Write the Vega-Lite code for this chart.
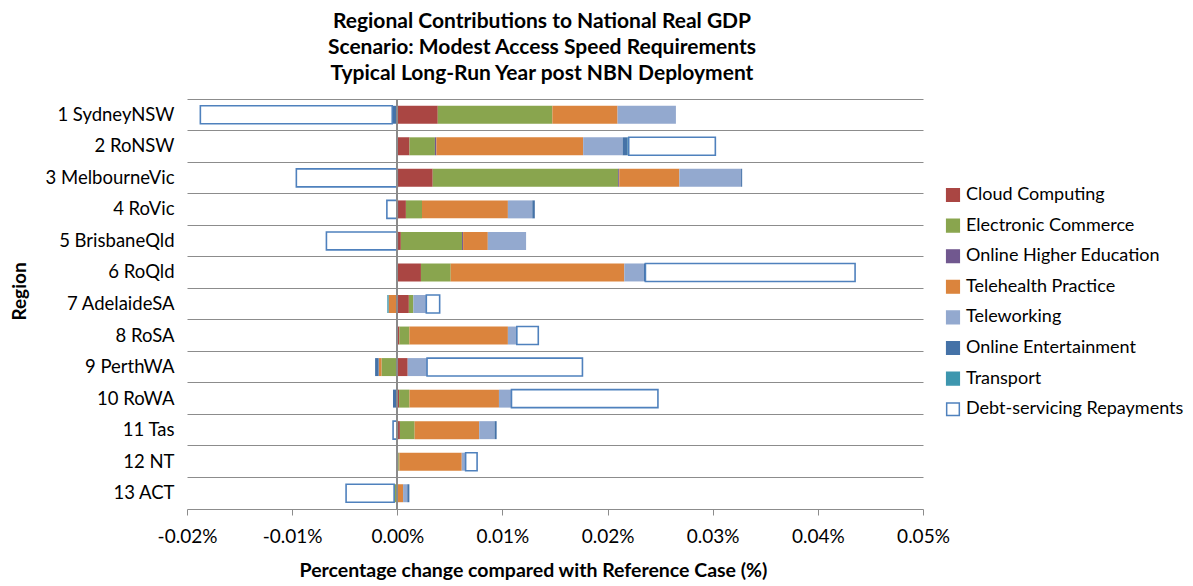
{
  "$schema": "https://vega.github.io/schema/vega-lite/v6.json",
  "width": 736,
  "height": 410,
  "autosize": {"type": "none"},
  "padding": {"left": 187, "top": 99, "right": 270, "bottom": 77},
  "background": "white",
  "config": {
    "font": "Lato",
    "view": {"stroke": null},
    "axis": {"labelColor": "#000", "titleColor": "#000"},
    "legend": {"labelColor": "#000"}
  },
  "title": {
    "text": ["Regional Contributions to National Real GDP", "Scenario: Modest Access Speed Requirements", "Typical Long-Run Year post NBN Deployment"],
    "font": "Lato",
    "fontSize": 21,
    "fontWeight": "bold",
    "color": "#000",
    "anchor": "middle",
    "dx": -13,
    "offset": 15,
    "lineHeight": 26
  },
  "data": {
    "values": [
      {"region": "1 SydneyNSW", "series": "Cloud Computing", "value": 0.00385},
      {"region": "1 SydneyNSW", "series": "Electronic Commerce", "value": 0.0109},
      {"region": "1 SydneyNSW", "series": "Telehealth Practice", "value": 0.0062},
      {"region": "1 SydneyNSW", "series": "Teleworking", "value": 0.00555},
      {"region": "1 SydneyNSW", "series": "Online Entertainment", "value": -0.00048},
      {"region": "1 SydneyNSW", "series": "Debt-servicing Repayments", "value": -0.01825},
      {"region": "2 RoNSW", "series": "Cloud Computing", "value": 0.00116},
      {"region": "2 RoNSW", "series": "Electronic Commerce", "value": 0.00242},
      {"region": "2 RoNSW", "series": "Online Higher Education", "value": 0.00014},
      {"region": "2 RoNSW", "series": "Telehealth Practice", "value": 0.01396},
      {"region": "2 RoNSW", "series": "Teleworking", "value": 0.00375},
      {"region": "2 RoNSW", "series": "Online Entertainment", "value": 0.00048},
      {"region": "2 RoNSW", "series": "Transport", "value": 0.0001},
      {"region": "2 RoNSW", "series": "Debt-servicing Repayments", "value": 0.00824},
      {"region": "3 MelbourneVic", "series": "Cloud Computing", "value": 0.00337},
      {"region": "3 MelbourneVic", "series": "Electronic Commerce", "value": 0.01764},
      {"region": "3 MelbourneVic", "series": "Online Higher Education", "value": 0.0001},
      {"region": "3 MelbourneVic", "series": "Telehealth Practice", "value": 0.00572},
      {"region": "3 MelbourneVic", "series": "Teleworking", "value": 0.00587},
      {"region": "3 MelbourneVic", "series": "Online Entertainment", "value": 0.0001},
      {"region": "3 MelbourneVic", "series": "Debt-servicing Repayments", "value": -0.0096},
      {"region": "4 RoVic", "series": "Cloud Computing", "value": 0.00082},
      {"region": "4 RoVic", "series": "Electronic Commerce", "value": 0.00153},
      {"region": "4 RoVic", "series": "Telehealth Practice", "value": 0.00817},
      {"region": "4 RoVic", "series": "Teleworking", "value": 0.00232},
      {"region": "4 RoVic", "series": "Online Entertainment", "value": 0.00024},
      {"region": "4 RoVic", "series": "Debt-servicing Repayments", "value": -0.00099},
      {"region": "5 BrisbaneQld", "series": "Cloud Computing", "value": 0.00034},
      {"region": "5 BrisbaneQld", "series": "Electronic Commerce", "value": 0.00582},
      {"region": "5 BrisbaneQld", "series": "Online Higher Education", "value": 0.0001},
      {"region": "5 BrisbaneQld", "series": "Telehealth Practice", "value": 0.00235},
      {"region": "5 BrisbaneQld", "series": "Teleworking", "value": 0.00364},
      {"region": "5 BrisbaneQld", "series": "Debt-servicing Repayments", "value": -0.00674},
      {"region": "6 RoQld", "series": "Cloud Computing", "value": 0.00225},
      {"region": "6 RoQld", "series": "Electronic Commerce", "value": 0.00283},
      {"region": "6 RoQld", "series": "Telehealth Practice", "value": 0.01651},
      {"region": "6 RoQld", "series": "Teleworking", "value": 0.00187},
      {"region": "6 RoQld", "series": "Online Entertainment", "value": 0.00014},
      {"region": "6 RoQld", "series": "Debt-servicing Repayments", "value": 0.01994},
      {"region": "7 AdelaideSA", "series": "Cloud Computing", "value": 0.0011},
      {"region": "7 AdelaideSA", "series": "Electronic Commerce", "value": 0.00043},
      {"region": "7 AdelaideSA", "series": "Telehealth Practice", "value": -0.00082},
      {"region": "7 AdelaideSA", "series": "Teleworking", "value": 0.00123},
      {"region": "7 AdelaideSA", "series": "Transport", "value": -0.00013},
      {"region": "7 AdelaideSA", "series": "Debt-servicing Repayments", "value": 0.00127},
      {"region": "8 RoSA", "series": "Cloud Computing", "value": 0.0002},
      {"region": "8 RoSA", "series": "Electronic Commerce", "value": 0.00095},
      {"region": "8 RoSA", "series": "Telehealth Practice", "value": 0.00937},
      {"region": "8 RoSA", "series": "Teleworking", "value": 0.00085},
      {"region": "8 RoSA", "series": "Online Entertainment", "value": -0.00012},
      {"region": "8 RoSA", "series": "Debt-servicing Repayments", "value": 0.00204},
      {"region": "9 PerthWA", "series": "Cloud Computing", "value": 0.00099},
      {"region": "9 PerthWA", "series": "Electronic Commerce", "value": -0.0015},
      {"region": "9 PerthWA", "series": "Telehealth Practice", "value": -0.00027},
      {"region": "9 PerthWA", "series": "Teleworking", "value": 0.00184},
      {"region": "9 PerthWA", "series": "Online Entertainment", "value": -0.00034},
      {"region": "9 PerthWA", "series": "Debt-servicing Repayments", "value": 0.01478},
      {"region": "10 RoWA", "series": "Cloud Computing", "value": 0.00017},
      {"region": "10 RoWA", "series": "Electronic Commerce", "value": 0.00099},
      {"region": "10 RoWA", "series": "Telehealth Practice", "value": 0.00851},
      {"region": "10 RoWA", "series": "Teleworking", "value": 0.00119},
      {"region": "10 RoWA", "series": "Online Entertainment", "value": -0.00041},
      {"region": "10 RoWA", "series": "Debt-servicing Repayments", "value": 0.01393},
      {"region": "11 Tas", "series": "Cloud Computing", "value": 0.00025},
      {"region": "11 Tas", "series": "Electronic Commerce", "value": 0.0014},
      {"region": "11 Tas", "series": "Telehealth Practice", "value": 0.00614},
      {"region": "11 Tas", "series": "Teleworking", "value": 0.00146},
      {"region": "11 Tas", "series": "Online Entertainment", "value": 0.0002},
      {"region": "11 Tas", "series": "Debt-servicing Repayments", "value": -0.0004},
      {"region": "12 NT", "series": "Cloud Computing", "value": 0.0001},
      {"region": "12 NT", "series": "Electronic Commerce", "value": 0.0001},
      {"region": "12 NT", "series": "Telehealth Practice", "value": 0.00593},
      {"region": "12 NT", "series": "Teleworking", "value": 0.00037},
      {"region": "12 NT", "series": "Debt-servicing Repayments", "value": 0.00109},
      {"region": "13 ACT", "series": "Electronic Commerce", "value": -0.0003},
      {"region": "13 ACT", "series": "Telehealth Practice", "value": 0.00055},
      {"region": "13 ACT", "series": "Teleworking", "value": 0.0004},
      {"region": "13 ACT", "series": "Online Entertainment", "value": 0.0002},
      {"region": "13 ACT", "series": "Debt-servicing Repayments", "value": -0.00457}
    ]
  },
  "transform": [
    {"calculate": "indexof(['Cloud Computing','Electronic Commerce','Online Higher Education','Telehealth Practice','Teleworking','Online Entertainment','Transport','Debt-servicing Repayments'], datum.series)", "as": "k"}
  ],
  "layer": [
    {
      "mark": {"type": "bar", "height": {"band": 0.57}},
      "encoding": {
        "y": {
          "field": "region",
          "type": "nominal",
          "sort": null,
          "scale": {"paddingInner": 0, "paddingOuter": 0},
          "axis": {
            "title": "Region",
            "titleFont": "Lato",
            "titleFontSize": 19,
            "titleFontWeight": "bold",
            "titleX": -168,
            "titleY": 192,
            "titleAngle": -90,
            "titleAlign": "center",
            "titleBaseline": "middle",
            "domain": false,
            "ticks": false,
            "grid": true,
            "gridColor": "#8c8c8c",
            "gridWidth": 1,
            "bandPosition": 0,
            "labelFontSize": 18.5,
            "labelPadding": 13,
            "labelLimit": 0
          }
        },
        "x": {
          "field": "value",
          "type": "quantitative",
          "stack": "zero",
          "scale": {"domain": [-0.02, 0.05], "nice": false},
          "axis": {
            "title": "Percentage change compared with Reference Case (%)",
            "titleFont": "Lato",
            "titleFontSize": 19.5,
            "titleFontWeight": "bold",
            "titleX": 346,
            "titleAlign": "center",
            "titlePadding": 15,
            "values": [-0.02, -0.01, 0, 0.01, 0.02, 0.03, 0.04, 0.05],
            "labelExpr": "replace(format(datum.value, '.2f'), '\u2212', '-') + '%'",
            "labelFontSize": 19,
            "labelPadding": 12,
            "labelFlush": false,
            "grid": false,
            "domainColor": "#8c8c8c",
            "tickColor": "#8c8c8c",
            "tickSize": 6
          }
        },
        "fill": {
          "field": "series",
          "type": "nominal",
          "scale": {
            "domain": ["Cloud Computing", "Electronic Commerce", "Online Higher Education", "Telehealth Practice", "Teleworking", "Online Entertainment", "Transport", "Debt-servicing Repayments"],
            "range": ["#AA4643", "#89A54E", "#71588F", "#DB843D", "#93A9CF", "#4572A7", "#3D96AE", "#FFFFFF"]
          },
          "legend": {
            "title": null,
            "orient": "none",
            "legendX": 757,
            "legendY": 87,
            "padding": 0,
            "labelFontSize": 18,
            "labelLimit": 0,
            "labelOffset": 4,
            "symbolType": "square",
            "symbolSize": 160,
            "symbolStrokeWidth": 1.5,
            "rowPadding": 10.6
          }
        },
        "stroke": {
          "field": "series",
          "type": "nominal",
          "scale": {
            "domain": ["Cloud Computing", "Electronic Commerce", "Online Higher Education", "Telehealth Practice", "Teleworking", "Online Entertainment", "Transport", "Debt-servicing Repayments"],
            "range": ["#AA4643", "#89A54E", "#71588F", "#DB843D", "#93A9CF", "#4572A7", "#3D96AE", "#4F81BD"]
          },
          "legend": {
            "title": null,
            "orient": "none",
            "legendX": 757,
            "legendY": 87,
            "padding": 0,
            "labelFontSize": 18,
            "labelLimit": 0,
            "labelOffset": 4,
            "symbolType": "square",
            "symbolSize": 160,
            "symbolStrokeWidth": 1.5,
            "rowPadding": 10.6
          }
        },
        "strokeWidth": {
          "condition": {"test": "datum.series === 'Debt-servicing Repayments'", "value": 1.6},
          "value": 0
        },
        "order": {"field": "k", "type": "quantitative"}
      }
    },
    {
      "mark": {"type": "rule", "color": "#8c8c8c", "strokeWidth": 1},
      "encoding": {"x": {"datum": 0, "type": "quantitative"}}
    }
  ]
}
